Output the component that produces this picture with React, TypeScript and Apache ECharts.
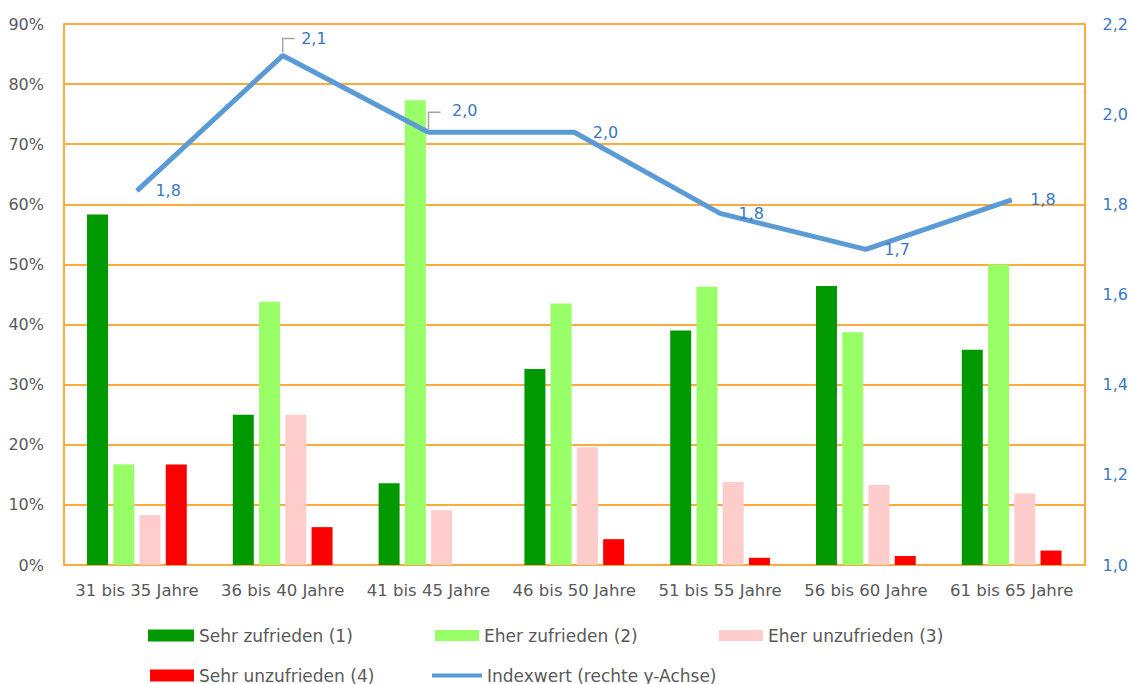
import React, { useEffect, useRef } from "react";
import * as echarts from "echarts";

const categories = [
  "31 bis 35 Jahre",
  "36 bis 40 Jahre",
  "41 bis 45 Jahre",
  "46 bis 50 Jahre",
  "51 bis 55 Jahre",
  "56 bis 60 Jahre",
  "61 bis 65 Jahre",
];
const sehrZufrieden = [58.3, 25.0, 13.6, 32.6, 39.0, 46.4, 35.8];
const eherZufrieden = [16.7, 43.8, 77.3, 43.5, 46.3, 38.7, 50.0];
const eherUnzufrieden = [8.3, 25.0, 9.1, 19.6, 13.8, 13.3, 11.9];
const sehrUnzufrieden = [16.7, 6.3, 0, 4.3, 1.2, 1.5, 2.4];
const indexwert = [1.83, 2.13, 1.96, 1.96, 1.78, 1.7, 1.81];
const leftTicks = { min: 0, max: 90, interval: 10 };
const rightTicks = { min: 1.0, max: 2.2, interval: 0.2 };
const leaderIdx = [1, 2];

const names = [
  "Sehr zufrieden (1)",
  "Eher zufrieden (2)",
  "Eher unzufrieden (3)",
  "Sehr unzufrieden (4)",
  "Indexwert (rechte y-Achse)",
];

const FONT = "DejaVu Sans";
const GRID_COLOR = "#ffaa3c";
const GREY = "#595959";
const BLUE_TXT = "#3a78c0";
const LINE_COLOR = "#5b9bd5";

export default function App() {
  const ref = useRef<HTMLDivElement>(null);
  useEffect(() => {
    if (!ref.current) return;
    const chart = echarts.init(ref.current, null, { renderer: "svg" });
    const fmt = (v: number) => v.toFixed(1).replace(".", ",");
    const barColors = ["#009900", "#99ff66", "#ffcccc", "#ff0000"];
    const barData = [sehrZufrieden, eherZufrieden, eherUnzufrieden, sehrUnzufrieden];

    const legendPos = [
      { left: 148, top: 627, w: 46, h: 12 },
      { left: 435, top: 627, w: 44, h: 11 },
      { left: 719, top: 627, w: 44, h: 11 },
      { left: 150, top: 667, w: 44, h: 12 },
      { left: 432, top: 667, w: 50, h: 4 },
    ];

    const lineData = indexwert.map((v, i) => {
      if (i === 1) return { value: v, label: { offset: [0, -17] } };
      if (i === 2) return { value: v, label: { offset: [5, -22] } };
      return { value: v };
    });

    const option: any = {
      animation: false,
      grid: { left: 64, right: 46, top: 24, bottom: 119, containLabel: false },
      legend: names.map((n, i) => ({
        data: [n],
        left: legendPos[i].left,
        top: legendPos[i].top,
        itemWidth: legendPos[i].w,
        itemHeight: legendPos[i].h,
        icon: "rect",
        padding: 0,
        itemGap: 0,
        selectedMode: false,
        textStyle: { fontFamily: FONT, fontSize: 17, color: GREY, padding: [0, 0, 0, 0] },
      })),
      xAxis: {
        type: "category",
        data: categories,
        axisLine: { show: true, lineStyle: { color: GRID_COLOR, width: 2 } },
        axisTick: { show: false },
        axisLabel: { fontFamily: FONT, fontSize: 16.5, color: GREY, margin: 17, interval: 0 },
      },
      yAxis: [
        {
          type: "value",
          min: leftTicks.min,
          max: leftTicks.max,
          interval: leftTicks.interval,
          axisLine: { show: true, lineStyle: { color: GRID_COLOR, width: 2 } },
          axisTick: { show: false },
          splitLine: { show: true, lineStyle: { color: GRID_COLOR, width: 2 } },
          axisLabel: {
            fontFamily: FONT,
            fontSize: 16,
            color: GREY,
            margin: 20,
            formatter: "{value}%",
          },
        },
        {
          type: "value",
          position: "right",
          min: rightTicks.min,
          max: rightTicks.max,
          interval: rightTicks.interval,
          axisLine: { show: true, lineStyle: { color: GRID_COLOR, width: 2 } },
          axisTick: { show: false },
          splitLine: { show: false },
          axisLabel: {
            fontFamily: FONT,
            fontSize: 16,
            color: BLUE_TXT,
            margin: 18,
            formatter: (v: number) => fmt(v),
          },
        },
      ],
      series: [
        ...barData.map((d, i) => ({
          name: names[i],
          type: "bar",
          data: d,
          barWidth: 21,
          barGap: "25%",
          itemStyle: { color: barColors[i] },
        })),
        {
          name: names[4],
          type: "line",
          yAxisIndex: 1,
          data: lineData,
          symbol: "circle",
          symbolSize: 1,
          showSymbol: true,
          itemStyle: { color: LINE_COLOR },
          lineStyle: { color: LINE_COLOR, width: 5 },
          label: {
            show: true,
            position: "right",
            distance: 18,
            fontFamily: FONT,
            fontSize: 16,
            color: BLUE_TXT,
            formatter: (p: any) => fmt(p.value),
          },
          z: 5,
        },
        {
          type: "custom",
          yAxisIndex: 1,
          silent: true,
          data: leaderIdx.map((i) => [i, indexwert[i]]),
          renderItem: (params: any, api: any) => {
            const p = api.coord([api.value(0), api.value(1)]);
            const h = params.dataIndex === 0 ? 17 : 20;
            return {
              type: "polyline",
              shape: {
                points: [
                  [p[0], p[1] - 3],
                  [p[0], p[1] - h],
                  [p[0] + 12, p[1] - h],
                ],
              },
              style: { stroke: "#a6a6a6", lineWidth: 1.5, fill: "none" },
            };
          },
          z: 4,
        },
      ],
    };
    chart.setOption(option);
    return () => chart.dispose();
  }, []);
  return (
    <div
      ref={ref}
      style={{ position: "absolute", left: 0, top: 0, width: 1131, height: 684, background: "#fff" }}
    />
  );
}
